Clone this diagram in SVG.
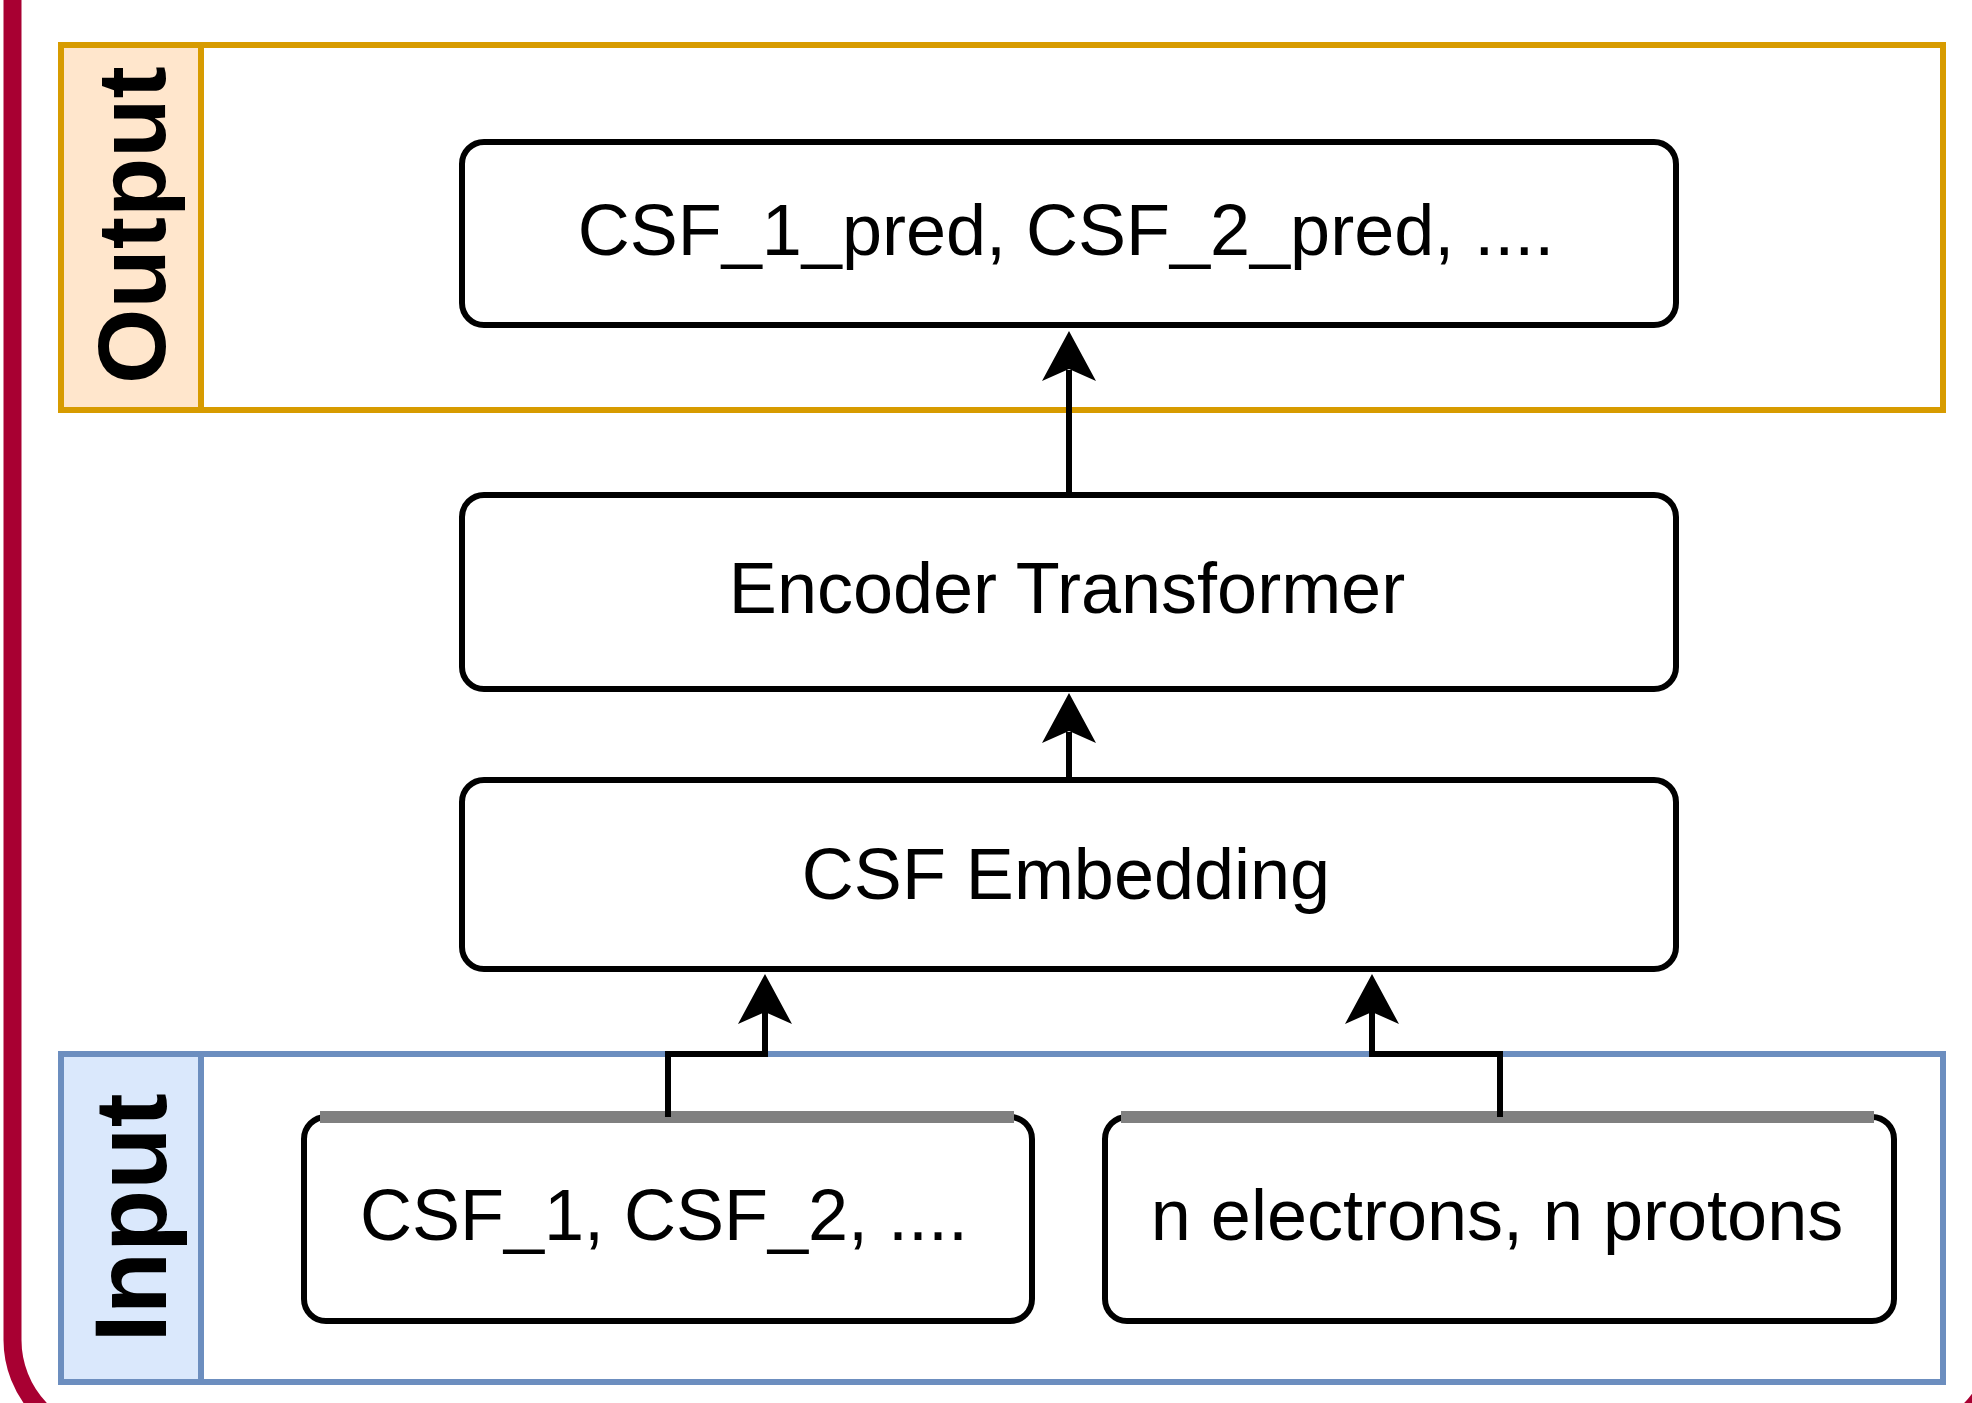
<svg xmlns="http://www.w3.org/2000/svg" width="1972" height="1403" viewBox="0 0 1972 1403">
<style>
.frame{fill:none;stroke:#a80032;stroke-width:18}
.lane{stroke-width:6}
.out{stroke:#d79b00}
.in{stroke:#6c8ebf}
.box{fill:#ffffff;stroke:#000000;stroke-width:6}
.lbl{font-family:"Liberation Sans",Arial,sans-serif;font-size:72px;fill:#000000;text-anchor:middle}
.title{font-family:"Liberation Sans",Arial,sans-serif;font-size:102px;font-weight:bold;fill:#000000;text-anchor:middle}
.edge{fill:none;stroke:#000000;stroke-width:6}
.head{fill:#000000;stroke:none}
</style>
<rect x="0" y="0" width="1972" height="1403" fill="#ffffff"/>
<rect class="frame" x="12.5" y="-200" width="1986" height="1640" rx="100" ry="100"/>

<g id="output-lane">
  <rect class="lane out" x="61" y="45" width="1882" height="365" fill="#ffffff"/>
  <rect class="lane out" x="61" y="45" width="140" height="365" fill="#ffe6cc"/>
  <text class="title" transform="translate(165,225) rotate(-90)" style="font-size:97px">Output</text>
</g>
<g id="input-lane">
  <rect class="lane in" x="61" y="1054" width="1882" height="328" fill="#ffffff"/>
  <rect class="lane in" x="61" y="1054" width="140" height="328" fill="#dae8fc"/>
  <text class="title" transform="translate(166,1218) rotate(-90)">Input</text>
</g>

<g id="node-output">
  <rect class="box" x="462" y="142" width="1214" height="183" rx="22" ry="22"/>
  <text class="lbl" x="1066" y="255">CSF_1_pred, CSF_2_pred, ....</text>
</g>
<g id="node-encoder">
  <rect class="box" x="462" y="495" width="1214" height="194" rx="22" ry="22"/>
  <text class="lbl" x="1067" y="613">Encoder Transformer</text>
</g>
<g id="node-embedding">
  <rect class="box" x="462" y="780" width="1214" height="189" rx="22" ry="22"/>
  <text class="lbl" x="1066" y="899">CSF Embedding</text>
</g>
<g id="node-csf">
  <rect class="box" x="304" y="1117" width="728" height="204" rx="22" ry="22"/>
  <line x1="320" y1="1117" x2="1014" y2="1117" stroke="#808080" stroke-width="12"/>
  <text class="lbl" x="664" y="1240">CSF_1, CSF_2, ....</text>
</g>
<g id="node-particles">
  <rect class="box" x="1105" y="1117" width="789" height="204" rx="22" ry="22"/>
  <line x1="1121" y1="1117" x2="1874" y2="1117" stroke="#808080" stroke-width="12"/>
  <text class="lbl" x="1497" y="1240">n electrons, n protons</text>
</g>

<g id="connectors">
  <path class="edge" d="M1069 495 V370"/>
  <path class="head" d="M1069 331 L1096 381 L1069 369 L1042 381 Z"/>
  <path class="edge" d="M1069 780 V732"/>
  <path class="head" d="M1069 693 L1096 743 L1069 731 L1042 743 Z"/>
  <path class="edge" d="M668 1117 V1054 H765 V1012"/>
  <path class="head" d="M765 974 L792 1024 L765 1012 L738 1024 Z"/>
  <path class="edge" d="M1500 1117 V1054 H1372 V1012"/>
  <path class="head" d="M1372 974 L1399 1024 L1372 1012 L1345 1024 Z"/>
</g>
</svg>
